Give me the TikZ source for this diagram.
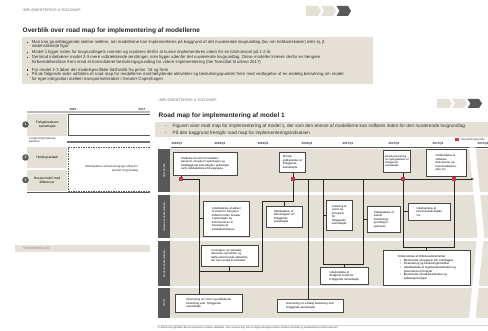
\documentclass[tikz,border=0pt]{standalone}
\usepackage{fontspec}
\setmainfont{Liberation Sans}
\usetikzlibrary{arrows.meta}
\definecolor{beige}{RGB}{228,224,214}
\definecolor{dgray}{RGB}{88,88,88}
\definecolor{bord}{RGB}{70,70,70}
\definecolor{dred}{RGB}{200,55,75}
\definecolor{hgray}{RGB}{125,125,125}
\definecolor{lgray}{RGB}{185,185,185}
\newcommand\bmark{\makebox[5.2pt][l]{\rule[0.5pt]{1.1pt}{1.1pt}}}
\newcommand\dmark{\makebox[7.5pt][l]{-}}
\newcommand\gmark{\hspace*{2pt}\makebox[4pt][l]{\textbullet}}
\begin{document}
\begin{tikzpicture}[x=1pt,y=-1pt,
  bx/.style={draw=bord, line width=0.6pt, fill=white, inner sep=1.2pt, font=\fontsize{2.8}{3.5}\selectfont, align=left, anchor=north west},
  rsq/.style={fill=dred, minimum size=3.6pt, inner sep=0pt},
  conn/.style={draw=black!85, line width=0.7pt},
  bul/.style={anchor=base west, inner sep=0pt, font=\fontsize{4.3}{4.5}\selectfont, text=black!80},
  fbul/.style={anchor=base west, inner sep=0pt, font=\fontsize{4.7}{5}\selectfont, text=black!80},
  hdr/.style={anchor=base west, inner sep=0pt, font=\fontsize{3.8}{4}\selectfont, text=hgray},
  ttl/.style={anchor=base west, inner sep=0pt, font=\fontsize{6.5}{7}\bfseries, text=black!85},
  tl/.style={inner sep=0pt, font=\fontsize{3}{3}\bfseries, text=black!80},
  lane/.style={fill=beige, anchor=north west, inner sep=0pt},
  strip/.style={fill=dgray, anchor=north west, inner sep=0pt, minimum width=12pt},
  lanelab/.style={rotate=90, text=white, inner sep=0pt, font=\fontsize{2.6}{3}\selectfont},
  rowlab/.style={fill=beige, minimum width=40pt, anchor=north west, inner sep=0pt, align=center, font=\fontsize{3.2}{3.9}\selectfont},
  num/.style={circle, fill=dgray, text=white, inner sep=0pt, minimum size=6.5pt, font=\fontsize{3.5}{4}\bfseries},
  chevL/.style={fill=beige},
  chevD/.style={fill=dgray}
]
\useasboundingbox (0,0) rectangle (488,331);
\clip (0,0) rectangle (488,331);
\fill[white] (0,0) rectangle (488,331);

% ================= back slide =================
\node[hdr] (h1) at (22.5,11.3) {IMPLEMENTERING \& ROADMAP};
\fill[chevL] (306,6) -- (318,6) -- (321,11) -- (318,16) -- (306,16) -- cycle;
\fill[chevL] (321,6) -- (333,6) -- (336,11) -- (333,16) -- (321,16) -- (324,11) -- cycle;
\fill[chevD] (336.5,6) -- (348,6) -- (351,11) -- (348,16) -- (336.5,16) -- (339.5,11) -- cycle;
\node[ttl] (title1) at (22.5,32.5) {Overblik over road map for implementering af modellerne};
\fill[beige] (22,37) rectangle (373,84.5);
\node[bul] (t1) at (26.5,43.5) {\bmark Man kan grundlæggende skelne mellem, om modellerne kan implementeres på baggrund af det nuværende lovgrundlag (lov om trafikselskaber) eller ej, jf.};
\node[bul] (t1b) at (31.7,47.9) {nedenstående figur};
\node[bul] (t2) at (26.5,53.8) {\bmark Model 1 ligger inden for lovgrundlagets rammer og vurderes derfor at kunne implementeres inden for en tidshorisont på 1-2 år};
\node[bul] (t3) at (26.5,58.4) {\bmark Derimod indebærer model 2-3 mere vidtrækkende ændringer, som ligger udenfor det nuværende lovgrundlag. Disse modeller kræver derfor en længere};
\node[bul] (t3b) at (31.7,63.1) {forberedelsesfase frem imod et konsolideret beslutningsgrundlag for videre implementering (her forestået til ultimo 2017)};
\node[bul] (t4) at (26.5,71.1) {\bmark For model 2-3 løber det modelspecifikke tidsforløb fra primo '18 og frem};
\node[bul] (t5) at (26.5,75.8) {\bmark På de følgende sider udfoldes et road map for modellerne med betydende aktiviteter og beslutningspunkter frem mod vedtagelse af en endelig beslutning om model};
\node[bul] (t5b) at (31.7,81) {for eget integration mellem transportselskaber i Greater Copenhagen};

\node[tl] (y16) at (73,109) {2016};
\node[tl] (y17) at (142,109) {2017};
\draw[lgray, line width=1.4pt] (27,112) -- (160,112);
\node[draw=dgray, line width=0.8pt, fill=white, minimum width=100pt, minimum height=21pt, anchor=north west, inner sep=0pt] (w1) at (68,114.3) {};
\node[rowlab, minimum height=22.5pt] (r1) at (27,113.5) {Forligskredsens\\samarbejde};
\node[anchor=north west, inner sep=0pt, align=left, font=\fontsize{3}{3.6}\itshape, text=black!80] (bar) at (29,137) {Lovgivningsmæssig\\barriere};
\draw[dgray!85, line width=1.3pt] (67,142) -- (160,142);
\node[draw=dgray, dash pattern=on 1.5pt off 1pt, line width=0.6pt, minimum width=100pt, minimum height=44pt, anchor=north west, inner sep=0pt] (w2) at (68,147) {};
\node[rowlab, minimum height=21pt] (r2) at (27,147) {Holdingselskab};
\node[rowlab, minimum height=20.5pt] (r3) at (27,170) {Bussermodel med\\differencer};
\node[anchor=east, inner sep=0pt, align=right, font=\fontsize{3}{3.8}\selectfont, text=black!80] (wt) at (138,168.5) {Udarbejdelse af beslutningsgrundlag for\\ændret lovgrundlag};
\draw[dgray, line width=1.2pt] (27,192.5) -- (160,192.5);
\node[num] (n1) at (25.5,124.5) {1};
\node[num] (n2) at (25.5,157.5) {2};
\node[num] (n3) at (25.5,180) {3};
\fill[beige] (15,245) rectangle (160,252);
\node[anchor=west, inner sep=0pt, font=\fontsize{3}{3}\selectfont, text=hgray] (foot1) at (23,248.5) {STRUENSEE \& CO.};

% ================= front slide =================
\fill[white] (150,92) rectangle (488,331);
\node[hdr] (h2) at (158.5,101.3) {IMPLEMENTERING \& ROADMAP};
\fill[chevL] (437,99) -- (449,99) -- (452,103.5) -- (449,108) -- (437,108) -- cycle;
\fill[chevL] (452,99) -- (464,99) -- (467,103.5) -- (464,108) -- (452,108) -- (455,103.5) -- cycle;
\fill[chevD] (467.5,99) -- (479,99) -- (482,103.5) -- (479,108) -- (467.5,108) -- (470.5,103.5) -- cycle;
\node[ttl] (title2) at (158.5,118) {Road map for implementering af model 1};
\fill[beige] (155,122) rectangle (488,137.5);
\node[fbul] (f1) at (165,127.8) {\dmark Figuren viser road map for implementering af model 1, der som den eneste af modellerne kan indføres inden for den nuværende lovgrundlag};
\node[fbul] (f2) at (165,134.4) {\dmark På den baggrund fremgår road map for implementeringsindsatsen};
\node[rsq, minimum size=3.4pt] (leg) at (457,139.5) {};
\node[anchor=west, inner sep=0pt, font=\fontsize{3}{3}\selectfont, text=black!75] (legt) at (461.5,139.5) {Beslutningspunkt};

% timeline
\node[tl] (q1) at (177,143.6) {2016Q1};
\node[tl] (q2) at (220,143.6) {2016Q2};
\node[tl] (q3) at (263,143.6) {2016Q3};
\node[tl] (q4) at (307,143.6) {2016Q4};
\node[tl] (q5) at (348,143.6) {2017Q1};
\node[tl] (q6) at (394,143.6) {2017Q2};
\node[tl] (q7) at (438,143.6) {2017Q3};
\node[tl] (q8) at (483,143.6) {2017Q4};
\draw[dgray, line width=0.8pt] (q1.south west |- 0,147.3) -- (488,147.3);

% lanes
\node[lane, minimum width=330pt, minimum height=43pt] (L1) at (158,149) {};
\node[lane, minimum width=330pt, minimum height=43pt] (L2) at (158,195) {};
\node[lane, minimum width=330pt, minimum height=45pt] (L3) at (158,241) {};
\node[lane, minimum width=330pt, minimum height=30pt] (L4) at (158,288) {};
\fill[white] (469,147.5) -- (475.5,147.5) -- (484,233) -- (475.5,319) -- (469,319) -- (477.5,233) -- cycle;
\node[strip, minimum height=43pt] (S1) at (158,149) {};
\node[strip, minimum height=43pt] (S2) at (158,195) {};
\node[strip, minimum height=45pt] (S3) at (158,241) {};
\node[strip, minimum height=30pt] (S4) at (158,288) {};
\node[lanelab] (l1) at (S1.center) {Styregruppe};
\node[lanelab] (l2) at (S2.center) {Selskab af trafikselskaber};
\node[lanelab] (l3) at (S3.center) {Model af trafikselskaber};
\node[lanelab] (l4) at (S4.center) {Øvrigt};

% boxes lane 1
\node[bx, minimum width=64pt, minimum height=23pt] (A) at (173,152) {Drøftelse af vision for kollektiv\\transport i Greater Copenhagen og\\fastlæggende samarbejde i spilleregler\\samt redskabsliste af styregruppe};
\node[bx, minimum width=26pt, minimum height=20pt] (E) at (279,152) {Princip-\\godkendelse af\\forliggende\\samarbejde};
\node[bx, minimum width=27pt, minimum height=22pt, font=\fontsize{2.6}{3.3}\selectfont] (H) at (383,150) {Endelig beslutning\\om igangsættelse af\\forliggende\\samarbejde};
\node[bx, minimum width=40pt, minimum height=27pt] (I) at (426,149) {Godkendelse af\\stiftelses-\\dokumenter og\\kommunikations-\\plan mv.};
% lane 2
\node[bx, minimum width=46pt, minimum height=35pt] (B) at (203,201) {Udarbejdelse af udkast\\til vision for integreret\\kollektiv trafik i Greater\\Copenhagen og\\kommissorium til\\foranalyse af\\selskabsstrukturer};
\node[bx, minimum width=36pt, minimum height=21pt] (D) at (266,206) {Udarbejdelse af\\statusrapport om\\forliggende\\samarbejde};
\node[bx, minimum width=26pt, minimum height=30pt] (J) at (326,200) {Justering af\\vision og\\principper\\for\\forliggende\\samarbejde};
\node[bx, minimum width=33pt, minimum height=26pt] (F) at (367,206) {Udarbejdelse af\\samlet\\beslutnings-\\grundlag til\\ejerkreds};
\node[bx, minimum width=42pt, minimum height=17pt] (K) at (408,203) {Udarbejdelse af\\kommunikationsplan\\mv.};
% lane 3
\node[bx, minimum width=57pt, minimum height=21pt] (C) at (201,245) {Foranalyse om selskabs-\\dannelse og funktion og\\fælles økonomiske aktiviteter,\\der kan overgå til selskabet};
\node[bx, minimum width=48pt, minimum height=17pt] (Lm) at (320,267) {Udarbejdelse af\\detaljeret model for\\forliggende samarbejde};
\node[bx, minimum width=87pt, minimum height=35pt, font=\fontsize{2.9}{3.6}\selectfont] (G) at (383,250) {Forberedelse af stiftelsesdokumenter\\\gmark Beskrivelse af opgaver der overdrages\\\gmark Finansiering og beslutningsmandat\\\gmark Udarbejdelse af organisationsstruktur og\\\hspace*{6pt}governance principper\\\gmark Beskrivelse af ledelsesstruktur og\\\hspace*{6pt}ledelsesprincipper};
% lane 4
\node[bx, minimum width=67pt, minimum height=18pt] (M) at (175,294) {Orientering om vision og indledende\\beslutning vedr. forliggende\\samarbejde};
\node[bx, minimum width=66pt, minimum height=13pt] (N) at (277,299) {Orientering om endelig beslutning vedr.\\forliggende samarbejde};

% decision squares (positions)
\coordinate (pA) at (181,179);
\coordinate (pE) at (293,179);
\coordinate (pH) at (403,179);
\coordinate (pI) at (454,179);

% connectors
\coordinate (a1) at (199,179);
\draw[conn] (pA) -- (a1) -- (a1 |- M.north);
\draw[conn] (a1 |- B.west) -- (B.west);
\coordinate (b1) at (199,271);
\coordinate (b2) at (262,271);
\coordinate (b3) at (262,201);
\coordinate (b4) at (293,201);
\draw[conn] (b1) -- (b2) -- (b3) -- (b4) -- (pE);
\draw[conn] (C.south) -- (C.south |- b1);
\draw[conn] (D.north) -- (D.north |- b4);
\coordinate (arr) at (474,179);
\draw[conn, -{Latex[length=2.6pt,width=2.2pt]}] (pE) -- (arr);
\coordinate (c1) at (308,179);
\draw[conn, line width=0.9pt] (c1) -- (c1 |- N.north);
\coordinate (d1) at (323,179);
\coordinate (d2) at (323,264);
\coordinate (d3) at (363,264);
\coordinate (d4) at (363,179);
\draw[conn] (d1) -- (d2) -- (d3) -- (d4);
\draw[conn] (d1 |- J.west) -- (J.west);
\draw[conn] (d4 |- F.west) -- (F.west);
\draw[conn] (Lm.north) -- (Lm.north |- d2);
\coordinate (e2) at (403,247);
\coordinate (e3) at (454,247);
\draw[conn] (pH) -- (e2) -- (e3) -- (pI);
\draw[conn] (e2 |- K.west) -- (K.west);
\draw[conn] (G.north) -- (G.north |- e2);
\draw[conn] (A.south -| pA) -- (pA);
\draw[conn] (E.south -| pE) -- (pE);
\draw[conn] (H.south -| pH) -- (pH);
\draw[conn] (I.south -| pI) -- (pI);
\node[rsq] (rA) at (pA) {};
\node[rsq] (rE) at (pE) {};
\node[rsq] (rH) at (pH) {};
\node[rsq] (rI) at (pI) {};

% footnote
\draw[lgray!60, line width=0.5pt] (157,325) -- (488,325);
\node[anchor=base west, inner sep=0pt, font=\fontsize{2.5}{3}\selectfont, text=black!75] (fn) at (158,329) {1) Bistand at ligestilles det at ejerkredsen af disse selskaber. Det vurderes dog som hensigtsmæssigt at skelne mellem ejerskab og udviklende/styrende funktioner.};
\end{tikzpicture}
\end{document}
